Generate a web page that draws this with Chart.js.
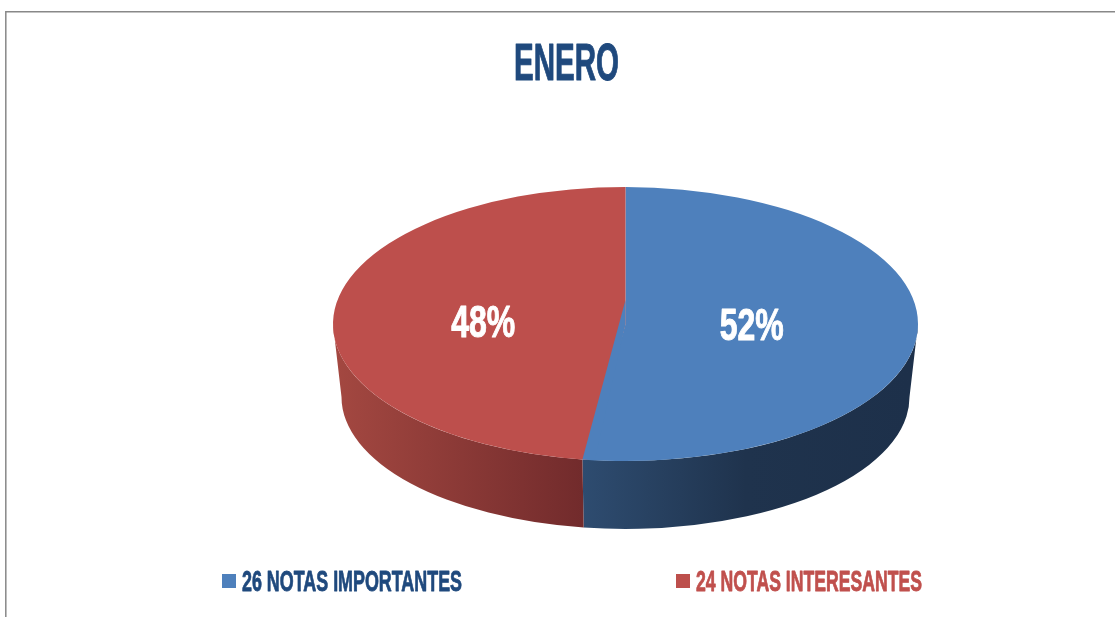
<!DOCTYPE html>
<html>
<head>
<meta charset="utf-8">
<title>ENERO</title>
<script src="https://cdn.jsdelivr.net/npm/chart.js@4"></script>
<style>
    html, body { margin: 0; padding: 0; background: #fff; overflow: hidden; }
    canvas { display: block; }
</style>
</head>
<body>
<canvas id="eneroChart" width="1115" height="617"></canvas>
<script>
var chartTitle = 'ENERO';
var categories = ['26 NOTAS IMPORTANTES', '24 NOTAS INTERESANTES'];
var notas = [26, 24];
var topColors = ['#4e80bc', '#bd4f4c'];
var textColors = ['#1f497d', '#c0504d'];

var FONT = '"Liberation Sans Narrow", "Liberation Sans", sans-serif';
var CX = 625.5, CY = 324, RX = 292.5, RY = 137;
// bottom rim of the wall, a bit narrower because of the perspective
var BOTTOM = { y: 397, rx: 284, ry: 132 };
var FRONT_SHIFT = 1.27 * Math.PI / 180;
var APEX_LIFT = 24;

// text squeezed to a given width, the original font is narrower than anything installed
function narrowText(ctx, text, x, y, size, width, color, heavy) {
    ctx.save();
    ctx.font = 'bold ' + size + 'px ' + FONT;
    ctx.textAlign = 'left';
    ctx.textBaseline = 'alphabetic';
    var sx = width / ctx.measureText(text).width;
    ctx.translate(x, y);
    ctx.scale(sx, 1);
    ctx.fillStyle = color;
    ctx.strokeStyle = color;
    ctx.lineWidth = heavy;
    ctx.lineJoin = 'round';
    ctx.strokeText(text, 0, 0);
    ctx.fillText(text, 0, 0);
    ctx.restore();
}

function wallGradient(ctx, index) {
    var g;
    if (index === 0) {
        g = ctx.createLinearGradient(582, 0, 910, 0);
        g.addColorStop(0, '#2e4c70');
        g.addColorStop(0.5, '#1f334d');
        g.addColorStop(1, '#1d304a');
    } else {
        g = ctx.createLinearGradient(333, 0, 582, 0);
        g.addColorStop(0, '#a44841');
        g.addColorStop(1, '#722b2c');
    }
    return g;
}

var pie3d = {
    id: 'pie3d',
    beforeDraw: function (chart) {
        var ctx = chart.ctx;
        ctx.save();
        ctx.strokeStyle = '#888888';
        ctx.lineWidth = 1.5;
        ctx.beginPath();
        ctx.moveTo(5.8, 617);
        ctx.lineTo(5.8, 11.8);
        ctx.lineTo(1115, 11.8);
        ctx.stroke();
        ctx.restore();
    },
    beforeDatasetDraw: function (chart) {
        var ctx = chart.ctx;
        var arcs = chart.getDatasetMeta(0).data;
        // side wall, only the part of each slice that faces the viewer
        arcs.forEach(function (arc, i) {
            var a0 = arc.startAngle, a1 = arc.endAngle;
            if (i === 0) { a0 = Math.max(a0, 0); a1 = a1 + FRONT_SHIFT; }
            else { a0 = a0 + FRONT_SHIFT; a1 = Math.min(a1, Math.PI); }
            ctx.beginPath();
            ctx.ellipse(CX, CY, RX, RY, 0, a0, a1);
            ctx.ellipse(CX, BOTTOM.y, BOTTOM.rx, BOTTOM.ry, 0, a1, a0, true);
            ctx.closePath();
            ctx.fillStyle = wallGradient(ctx, i);
            ctx.fill();
        });
        // flatten the library's round pie into the top ellipse
        ctx.save();
        ctx.translate(CX, CY);
        ctx.scale(RX / arcs[0].outerRadius, RY / arcs[0].outerRadius);
        ctx.translate(-arcs[0].x, -arcs[0].y);
    },
    afterDatasetDraw: function (chart) {
        var ctx = chart.ctx;
        ctx.restore();
        // the dividing line bends at a point behind the centre
        var a1 = chart.getDatasetMeta(0).data[0].endAngle;
        ctx.beginPath();
        ctx.moveTo(CX, CY - APEX_LIFT);
        ctx.lineTo(CX, CY);
        ctx.lineTo(CX + RX * Math.cos(a1 - 0.02), CY + RY * Math.sin(a1 - 0.02));
        ctx.ellipse(CX, CY, RX, RY, 0, a1 - 0.02, a1 + FRONT_SHIFT);
        ctx.closePath();
        ctx.fillStyle = topColors[0];
        ctx.fill();
    },
    afterDraw: function (chart) {
        var ctx = chart.ctx;
        var arcs = chart.getDatasetMeta(0).data;
        var total = notas.reduce(function (a, b) { return a + b; }, 0);

        narrowText(ctx, chartTitle, 514, 80, 51, 105, textColors[0], 1);

        arcs.forEach(function (arc, i) {
            var mid = (arc.startAngle + arc.endAngle) / 2;
            var x = CX + RX * 0.46 * Math.cos(mid) - 8;
            var y = CY + RY * 0.2 * Math.sin(mid) - 1.5;
            var label = Math.round(notas[i] / total * 100) + '%';
            narrowText(ctx, label, x - 32, y + 16, 44, 64, '#ffffff', 1);
        });

        // legend, swatch and text coloured per item
        var legendX = [222, 676];
        var legendW = [220, 226];
        categories.forEach(function (name, i) {
            ctx.fillStyle = topColors[i];
            ctx.fillRect(legendX[i], 574, 14, 14);
            narrowText(ctx, name, legendX[i] + 20, 591, 29, legendW[i], textColors[i], 0.8);
        });
    }
};

var ctx = document.getElementById('eneroChart').getContext('2d');

new Chart(ctx, {
    type: 'pie',
    data: {
        labels: categories,
        datasets: [{
            data: notas,
            backgroundColor: topColors,
            borderWidth: 0
        }]
    },
    options: {
        responsive: false,
        animation: false,
        layout: {
            padding: { left: 488, right: 353, top: 187, bottom: 156 }
        },
        plugins: {
            legend: { display: false },
            title: { display: false },
            tooltip: { enabled: false }
        }
    },
    plugins: [pie3d]
});
</script>
</body>
</html>
